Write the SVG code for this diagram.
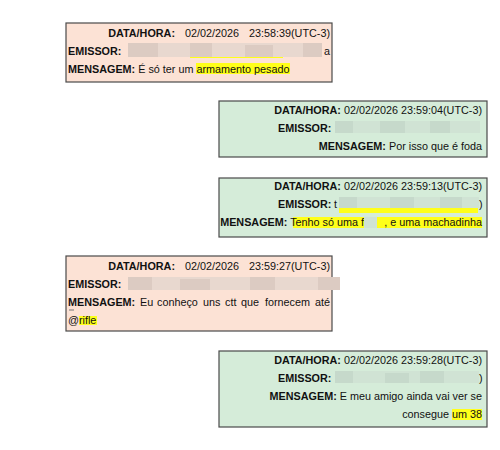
<svg xmlns="http://www.w3.org/2000/svg" width="500" height="450" viewBox="0 0 500 450">
<defs>
<style>
.pink{fill:#fce2d5;stroke:#4a4a4a;stroke-width:1.2}
.green{fill:#d5ecd9;stroke:#4a4a4a;stroke-width:1.2}
text{font-family:"Liberation Sans",Arial,sans-serif;font-size:10.8px;fill:#111}
.b{font-weight:bold}
.e{text-anchor:end}
.hl{fill:#ffff1a}
.bp1{fill:#dccbc2}
.bp2{fill:#e8d8cf}
.bg1{fill:#c6d9cb}
.bg2{fill:#d0e3d4}
</style>
</defs>
<rect width="500" height="450" fill="#ffffff"/>

<g id="msg1">
<rect class="pink" x="66" y="23" width="266" height="59"/>
<text class="b" x="175" y="37" text-anchor="end">DATA/HORA:</text>
<text x="185" y="37">02/02/2026</text>
<text x="330" y="37" text-anchor="end">23:58:39(UTC-3)</text>
<text class="b" x="68" y="55">EMISSOR:</text>
<rect class="hl" x="190" y="55" width="93" height="3"/>
<rect class="bp2" x="128" y="43" width="194" height="14"/>
<rect class="bp1" x="128" y="43" width="30" height="14"/>
<rect class="bp1" x="190" y="43" width="22" height="14"/>
<rect class="bp1" x="245" y="45" width="28" height="12"/>
<rect class="bp1" x="303" y="43" width="19" height="14"/>
<text x="324" y="55">a</text>
<rect class="hl" x="196" y="63" width="94" height="11"/>
<text x="68" y="73"><tspan class="b">MENSAGEM:</tspan> É só ter um armamento pesado</text>
</g>

<g id="msg2">
<rect class="green" x="219" y="101" width="268" height="56"/>
<text class="e" x="482" y="114"><tspan class="b">DATA/HORA:</tspan> 02/02/2026 23:59:04(UTC-3)</text>
<text class="b" x="278" y="132">EMISSOR:</text>
<rect class="bg2" x="335" y="121" width="145" height="12"/>
<rect class="bg1" x="335" y="121" width="18" height="12"/>
<rect class="bg1" x="380" y="121" width="25" height="12"/>
<rect class="bg1" x="430" y="121" width="20" height="12"/>
<text class="e" x="482" y="150"><tspan class="b">MENSAGEM:</tspan> Por isso que é foda</text>
</g>

<g id="msg3">
<rect class="green" x="219" y="178" width="268" height="59"/>
<text class="e" x="482" y="190"><tspan class="b">DATA/HORA:</tspan> 02/02/2026 23:59:13(UTC-3)</text>
<text class="b" x="278" y="208">EMISSOR:</text>
<text x="334" y="208">t</text>
<rect class="hl" x="339" y="207" width="139" height="6"/>
<rect class="bg2" x="339" y="197" width="140" height="11"/>
<rect class="bg1" x="339" y="197" width="18" height="11"/>
<rect class="bg1" x="390" y="197" width="24" height="11"/>
<rect class="bg1" x="440" y="197" width="22" height="11"/>
<text x="479" y="208">)</text>
<rect class="hl" x="293" y="217" width="189" height="11"/>
<text class="e" x="364" y="226"><tspan class="b">MENSAGEM:</tspan> Tenho só uma f</text>
<rect class="bg2" x="364" y="217" width="13" height="11"/>
<text class="e" x="482" y="226">, e uma machadinha</text>
</g>

<g id="msg4">
<rect class="pink" x="66" y="256" width="266" height="75"/>
<text class="b" x="175" y="270" text-anchor="end">DATA/HORA:</text>
<text x="185" y="270">02/02/2026</text>
<text x="330" y="270" text-anchor="end">23:59:27(UTC-3)</text>
<text class="b" x="68" y="288">EMISSOR:</text>
<rect class="bp2" x="128" y="277" width="212" height="13"/>
<rect class="bp1" x="128" y="277" width="24" height="13"/>
<rect class="bp1" x="180" y="279" width="30" height="11"/>
<rect class="bp1" x="250" y="277" width="25" height="13"/>
<rect class="bp1" x="318" y="277" width="22" height="13"/>
<text y="306"><tspan class="b" x="68">MENSAGEM:</tspan><tspan x="140">Eu</tspan><tspan x="157">conheço</tspan><tspan x="203">uns</tspan><tspan x="225">ctt</tspan><tspan x="241">que</tspan><tspan x="265">fornecem</tspan><tspan x="315">até</tspan></text>
<rect x="69" y="309" width="5" height="2" fill="#b8aca6"/>
<rect class="hl" x="79" y="316" width="18" height="9"/>
<text x="68" y="324">@rifle</text>
</g>

<g id="msg5">
<rect class="green" x="219" y="351" width="268" height="76"/>
<text class="e" x="482" y="364"><tspan class="b">DATA/HORA:</tspan> 02/02/2026 23:59:28(UTC-3)</text>
<text class="b" x="278" y="382">EMISSOR:</text>
<rect class="bg2" x="335" y="371" width="144" height="12"/>
<rect class="bg1" x="335" y="371" width="18" height="12"/>
<rect class="bg1" x="385" y="373" width="24" height="10"/>
<rect class="bg1" x="420" y="371" width="24" height="12"/>
<text x="479" y="382">)</text>
<text class="e" x="482" y="400"><tspan class="b">MENSAGEM:</tspan> E meu amigo ainda vai ver se</text>
<rect class="hl" x="452" y="409" width="30" height="11"/>
<text class="e" x="482" y="418">consegue um 38</text>
</g>
</svg>
